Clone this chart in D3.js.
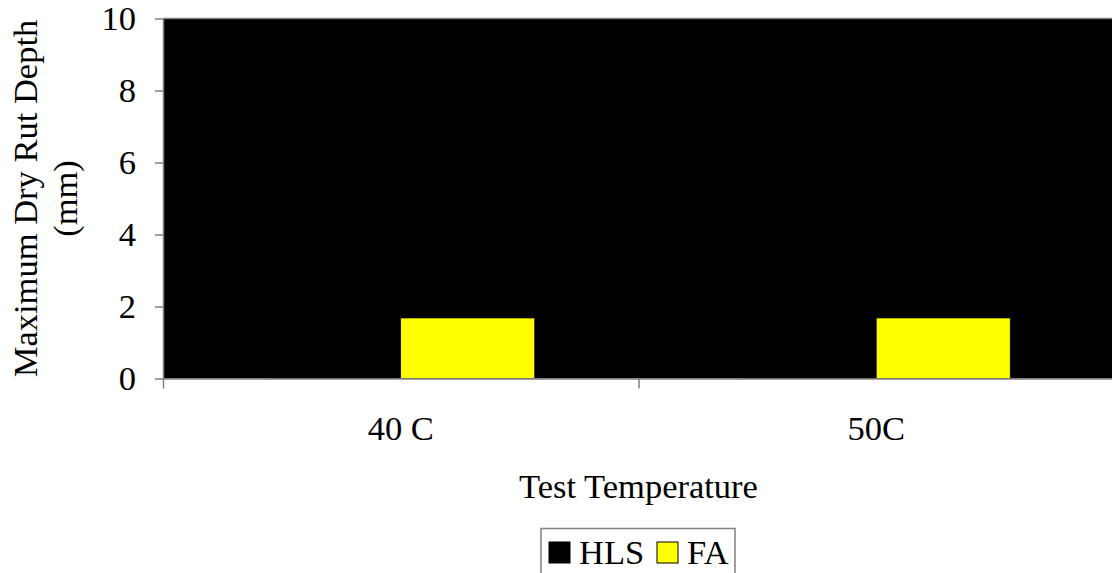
<!DOCTYPE html>
<html>
<head>
<meta charset="utf-8">
<script src="https://cdn.jsdelivr.net/npm/d3@7"></script>
<style>
  html, body { margin: 0; padding: 0; background: #fff; }
  svg { display: block; }
  text { font-family: "Liberation Serif", "Times New Roman", serif; fill: #000; }
</style>
</head>
<body>
<svg id="chart" width="1112" height="573"></svg>
<script>
// Rut depth by test temperature
const categories = ["40 C", "50C"];
const seriesNames = ["HLS", "FA"];
const hlsValues = [10, 10];
const faValues = [1.68, 1.68];
const yTicks = [0, 2, 4, 6, 8, 10];
const seriesColors = ["#000000", "#FFFF00"];

const svg = d3.select("#chart");
const plot = { left: 163, right: 1114, top: 18.5, bottom: 378.5 };
const fontSize = 34.5;
const axisGray = "#808080";

const y = d3.scaleLinear().domain([0, 10]).range([plot.bottom, plot.top]);
const x0 = d3.scaleBand().domain(categories).range([plot.left, plot.right]).paddingInner(0).paddingOuter(0);
const x1 = d3.scaleBand().domain(seriesNames).range([0, x0.bandwidth()]).paddingInner(0).paddingOuter(0.775);

const data = categories.map((c, i) => ({
  category: c,
  values: [
    { key: "HLS", value: hlsValues[i] },
    { key: "FA", value: faValues[i] }
  ]
}));
const color = d3.scaleOrdinal().domain(seriesNames).range(seriesColors);

// plot area
svg.append("defs").append("clipPath").attr("id", "plotClip")
  .append("rect")
  .attr("x", plot.left).attr("y", plot.top)
  .attr("width", plot.right - plot.left).attr("height", plot.bottom - plot.top);

svg.append("rect")
  .attr("x", plot.left).attr("y", plot.top)
  .attr("width", plot.right - plot.left).attr("height", plot.bottom - plot.top)
  .attr("fill", "#000");

// bars
const groups = svg.append("g").attr("clip-path", "url(#plotClip)")
  .selectAll("g").data(data).join("g")
  .attr("transform", d => `translate(${x0(d.category)},0)`);

groups.selectAll("rect").data(d => d.values).join("rect")
  .attr("x", d => x1(d.key))
  .attr("width", x1.bandwidth())
  .attr("y", d => y(d.value))
  .attr("height", d => y(0) - y(d.value))
  .attr("fill", d => color(d.key))
  .attr("stroke", "#000")
  .attr("stroke-width", 0.6);

// top border of the plot area
svg.append("line")
  .attr("x1", plot.left).attr("x2", plot.right)
  .attr("y1", plot.top).attr("y2", plot.top)
  .attr("stroke", axisGray).attr("stroke-width", 1.5);

// y axis
const yAxis = svg.append("g")
  .attr("transform", `translate(${plot.left},0)`)
  .call(d3.axisLeft(y).tickValues(yTicks).tickSize(8).tickSizeOuter(0).tickPadding(19).tickFormat(d3.format("d")));
yAxis.select(".domain").attr("stroke", axisGray).attr("stroke-width", 1.5);
yAxis.selectAll(".tick line").attr("stroke", axisGray).attr("stroke-width", 1.5);
yAxis.selectAll(".tick text")
  .attr("font-size", fontSize)
  .attr("font-family", "Liberation Serif, serif")
  .attr("fill", "#000");

// x axis: tick marks at category boundaries
const xb = d3.scaleLinear().domain([0, categories.length]).range([plot.left, plot.right]);
const xAxis = svg.append("g")
  .attr("transform", `translate(0,${plot.bottom})`)
  .call(d3.axisBottom(xb).tickValues(d3.range(categories.length + 1)).tickSize(10).tickSizeOuter(0).tickFormat(""));
xAxis.select(".domain").attr("stroke", axisGray).attr("stroke-width", 1.5);
xAxis.selectAll(".tick line").attr("stroke", axisGray).attr("stroke-width", 1.5);

// category labels
svg.append("g").selectAll("text").data(categories).join("text")
  .attr("x", d => x0(d) + x0.bandwidth() / 2)
  .attr("y", 440)
  .attr("text-anchor", "middle")
  .attr("font-size", fontSize)
  .text(d => d);

// axis titles
svg.append("text")
  .attr("x", (plot.left + plot.right) / 2)
  .attr("y", 498)
  .attr("text-anchor", "middle")
  .attr("font-size", fontSize)
  .text("Test Temperature");

const yTitle = ["Maximum Dry Rut Depth", "(mm)"];
svg.append("g").selectAll("text").data(yTitle).join("text")
  .attr("transform", (d, i) => `translate(${37 + i * 40},${(plot.top + plot.bottom) / 2}) rotate(-90)`)
  .attr("text-anchor", "middle")
  .attr("font-size", fontSize)
  .text(d => d);

// legend
const legend = svg.append("g");
legend.append("rect")
  .attr("x", 541).attr("y", 528.5)
  .attr("width", 194).attr("height", 60)
  .attr("fill", "#fff")
  .attr("stroke", axisGray).attr("stroke-width", 1.5);

const legendX = [549, 657];
const items = legend.selectAll("g.item").data(seriesNames).join("g")
  .attr("class", "item")
  .attr("transform", (d, i) => `translate(${legendX[i]},0)`);
items.append("rect")
  .attr("x", 0).attr("y", 542)
  .attr("width", 21).attr("height", 21)
  .attr("fill", d => color(d))
  .attr("stroke", "#000").attr("stroke-width", 1);
items.append("text")
  .attr("x", 30).attr("y", 564)
  .attr("font-size", fontSize)
  .text(d => d);
</script>
</body>
</html>
